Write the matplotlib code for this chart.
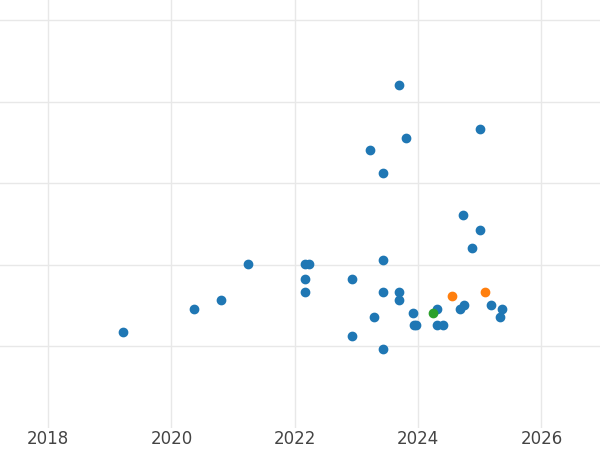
import matplotlib
matplotlib.use("Agg")
import matplotlib.pyplot as plt

# blue series
blue_x = [2019.22, 2020.37, 2020.80, 2021.24, 2022.17, 2022.23, 2022.17, 2022.17, 2022.93, 2022.93,
          2023.22, 2023.28, 2023.43, 2023.43, 2023.43, 2023.43, 2023.69, 2023.69, 2023.69, 2023.80,
          2023.92, 2023.93, 2023.96, 2024.30, 2024.30, 2024.40, 2024.68, 2024.73, 2024.74, 2024.87,
          2025.00, 2025.00, 2025.18, 2025.33, 2025.36]
blue_y = [1.17, 1.46, 1.56, 2.01, 2.01, 2.01, 1.82, 1.67, 1.82, 1.12,
          3.41, 1.36, 3.12, 2.06, 1.67, 0.97, 4.21, 1.67, 1.57, 3.56,
          1.41, 1.26, 1.26, 1.46, 1.26, 1.26, 1.46, 2.61, 1.51, 2.21,
          3.66, 2.42, 1.51, 1.36, 1.46]
orange_x = [2024.55, 2025.08]
orange_y = [1.61, 1.67]
green_x = [2024.24]
green_y = [1.41]

fig = plt.figure(figsize=(6, 4.5), dpi=100)
ax = fig.add_axes([0, 0.05, 1, 0.95])
ax.scatter(blue_x, blue_y, s=36, color="#1f77b4", zorder=3)
ax.scatter(orange_x, orange_y, s=36, color="#ff7f0e", zorder=3)
ax.scatter(green_x, green_y, s=36, color="#2ca02c", zorder=3)

ax.set_xlim(2017.22, 2026.95)
ax.set_ylim(0, 5.25)
ax.set_xticks([2018, 2020, 2022, 2024, 2026])
ax.set_yticks([1, 2, 3, 4, 5])
ax.set_yticklabels([])
ax.grid(True, color="#e8e8e8", linewidth=1)
ax.set_axisbelow(True)
for s in ax.spines.values():
    s.set_visible(False)
ax.tick_params(axis="both", length=0, labelsize=12, labelcolor="#444444")
ax.tick_params(axis="x", pad=2)
fig.savefig("out.png", dpi=100)
